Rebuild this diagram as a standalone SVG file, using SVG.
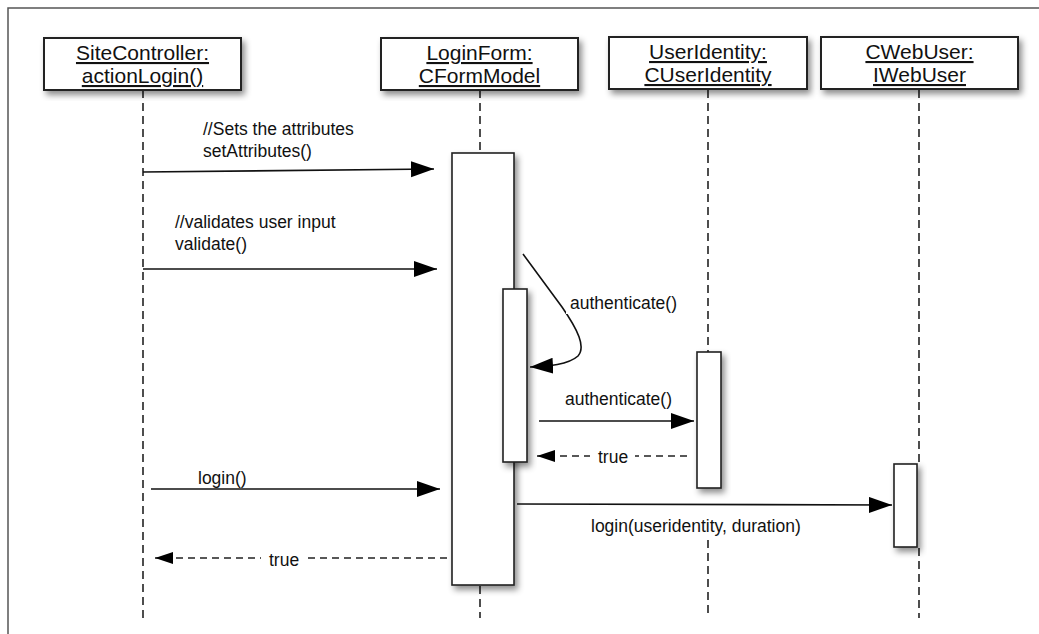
<svg xmlns="http://www.w3.org/2000/svg" width="1039" height="634" viewBox="0 0 1039 634">
<style>
  .hdr { fill:#fff; stroke:#222; stroke-width:2; filter:url(#sh); }
  .act { fill:#fff; stroke:#222; stroke-width:1.6; filter:url(#sh); }
  .ht { font-family:"Liberation Sans", Arial, sans-serif; font-size:21px; fill:#111; text-anchor:middle; text-decoration:underline; }
  .mt { font-family:"Liberation Sans", Arial, sans-serif; font-size:17.5px; fill:#111; }
  .life { stroke:#222; stroke-width:1.6; stroke-dasharray:8 5; fill:none; }
  .msg { stroke:#111; stroke-width:1.6; fill:none; marker-end:url(#ah); }
  .ret { stroke:#222; stroke-width:1.6; stroke-dasharray:7 5; fill:none; marker-end:url(#rh); }
</style>
<defs>
  <filter id="sh" x="-30%" y="-10%" width="170%" height="130%">
    <feDropShadow dx="3" dy="4" stdDeviation="3" flood-color="#000" flood-opacity="0.45"/>
  </filter>
  <marker id="ah" markerWidth="24" markerHeight="18" refX="23" refY="8" orient="auto" markerUnits="userSpaceOnUse">
    <path d="M0,0 L23,8 L0,16 Z" fill="#000"/>
  </marker>
  <marker id="rh" markerWidth="20" markerHeight="14" refX="18" refY="6" orient="auto" markerUnits="userSpaceOnUse">
    <path d="M0,0 L18,6 L0,12 Z" fill="#000"/>
  </marker>
</defs>
<rect x="0" y="0" width="1039" height="634" fill="#fff"/>
<rect x="8" y="8" width="1100" height="700" fill="none" stroke="#555" stroke-width="1.5"/>

<g id="lifelines">
  <line class="life" x1="143" y1="90" x2="143" y2="618"/>
  <line class="life" x1="480" y1="90" x2="480" y2="153"/>
  <line class="life" x1="480" y1="586" x2="480" y2="618"/>
  <line class="life" x1="708" y1="90" x2="708" y2="352"/>
  <line class="life" x1="708" y1="540" x2="708" y2="618"/>
  <line class="life" x1="919" y1="90" x2="919" y2="464"/>
  <line class="life" x1="919" y1="548" x2="919" y2="618"/>
</g>

<g id="node-sitecontroller">
  <rect class="hdr" x="44" y="38" width="197" height="52"/>
  <text class="ht" x="142.5" y="60">SiteController:</text>
  <text class="ht" x="142.5" y="83">actionLogin()</text>
</g>
<g id="node-loginform">
  <rect class="hdr" x="381" y="38" width="197" height="52"/>
  <text class="ht" x="479.5" y="60">LoginForm:</text>
  <text class="ht" x="479.5" y="83">CFormModel</text>
</g>
<g id="node-useridentity">
  <rect class="hdr" x="609" y="37" width="198" height="52"/>
  <text class="ht" x="708" y="59">UserIdentity:</text>
  <text class="ht" x="708" y="82">CUserIdentity</text>
</g>
<g id="node-cwebuser">
  <rect class="hdr" x="821" y="37" width="197" height="52"/>
  <text class="ht" x="919.5" y="59">CWebUser:</text>
  <text class="ht" x="919.5" y="82">IWebUser</text>
</g>

<g id="activation-loginform">
  <rect class="act" x="452" y="153" width="62" height="432"/>
</g>
<g id="activation-loginform-nested">
  <rect class="act" x="503" y="289" width="24" height="173"/>
</g>
<g id="activation-useridentity">
  <rect class="act" x="697" y="352" width="24" height="136"/>
</g>
<g id="activation-cwebuser">
  <rect class="act" x="894" y="464" width="23" height="83"/>
</g>

<g id="connectors">
  <line class="msg" x1="143" y1="172" x2="434" y2="169"/>
  <line class="msg" x1="143" y1="269" x2="437" y2="269"/>
  <path class="msg" d="M523,254 L562,307 C578,330 586,347 578,356 C568,365 548,366 530,367"/>
  <line class="msg" x1="539" y1="421" x2="694" y2="421"/>
  <line class="ret" x1="687" y1="456" x2="537" y2="456"/>
  <line class="msg" x1="151" y1="489" x2="440" y2="489"/>
  <line class="msg" x1="517" y1="504" x2="892" y2="505"/>
  <line class="ret" x1="447" y1="558" x2="155" y2="558"/>
</g>

<g id="labels">
  <text class="mt" x="203" y="135">//Sets the attributes</text>
  <text class="mt" x="203" y="157">setAttributes()</text>
  <text class="mt" x="175" y="228">//validates user input</text>
  <text class="mt" x="175" y="250">validate()</text>
  <rect x="566" y="294" width="120" height="20" fill="#fff"/>
  <text class="mt" x="570" y="309">authenticate()</text>
  <text class="mt" x="565" y="405">authenticate()</text>
  <rect x="590" y="446" width="45" height="20" fill="#fff"/>
  <text class="mt" x="598" y="463">true</text>
  <text class="mt" x="198" y="484">login()</text>
  <text class="mt" x="591" y="532">login(useridentity, duration)</text>
  <rect x="261" y="548" width="46" height="20" fill="#fff"/>
  <text class="mt" x="269" y="566">true</text>
</g>
</svg>
